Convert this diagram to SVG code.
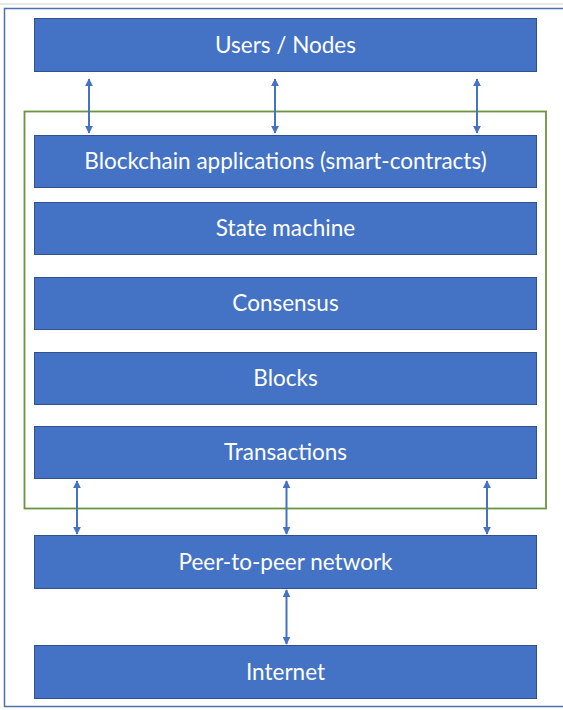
<svg xmlns="http://www.w3.org/2000/svg" width="563" height="710" viewBox="0 0 563 710">
  <defs>
    <marker id="head" viewBox="0 0 10 10" refX="9" refY="5" markerWidth="8" markerHeight="8" orient="auto-start-reverse" markerUnits="userSpaceOnUse">
      <path d="M0,0 L10,5 L0,10 z" fill="#4472C4"/>
    </marker>
    <style>
      .layer { fill: #4472C4; stroke: #2F528F; stroke-width: 1; }
      .label { fill: #ffffff; font-family: Lato, "Open Sans", sans-serif; font-size: 22.5px; text-anchor: middle; dominant-baseline: central; }
      .link { stroke: #4472C4; stroke-width: 2; fill: none; marker-start: url(#head); marker-end: url(#head); }
    </style>
  </defs>
  <rect width="563" height="710" fill="#ffffff"/>
  <!-- page frame -->
  <line x1="0" y1="4" x2="563" y2="4" stroke="#d0d0d0" stroke-width="1"/>
  <rect x="4.5" y="8.5" width="570" height="698" fill="none" stroke="#4F6FB0" stroke-width="1.5"/>
  <!-- blockchain stack boundary -->
  <rect id="stack" x="24.5" y="111.5" width="521.5" height="397" fill="none" stroke="#6A9440" stroke-width="1.8"/>

  <g id="users">
    <rect class="layer" x="34.5" y="18.5" width="502" height="53"/>
    <text class="label" x="285.5" y="44">Users / Nodes</text>
  </g>
  <g id="apps">
    <rect class="layer" x="34.5" y="135.5" width="502" height="52"/>
    <text class="label" x="285.5" y="160">Blockchain applications (smart-contracts)</text>
  </g>
  <g id="state-machine">
    <rect class="layer" x="34.5" y="202.5" width="502" height="52"/>
    <text class="label" x="285.5" y="227">State machine</text>
  </g>
  <g id="consensus">
    <rect class="layer" x="34.5" y="277.5" width="502" height="52"/>
    <text class="label" x="285.5" y="302">Consensus</text>
  </g>
  <g id="blocks">
    <rect class="layer" x="34.5" y="352.5" width="502" height="52"/>
    <text class="label" x="285.5" y="377">Blocks</text>
  </g>
  <g id="transactions">
    <rect class="layer" x="34.5" y="426.5" width="502" height="52"/>
    <text class="label" x="285.5" y="451">Transactions</text>
  </g>
  <g id="p2p">
    <rect class="layer" x="34.5" y="535.5" width="502" height="53"/>
    <text class="label" x="285.5" y="561">Peer-to-peer network</text>
  </g>
  <g id="internet">
    <rect class="layer" x="34.5" y="645.5" width="502" height="53"/>
    <text class="label" x="285.5" y="671">Internet</text>
  </g>

  <g id="connectors">
    <line class="link" x1="89" y1="79" x2="89" y2="133"/>
    <line class="link" x1="275" y1="79" x2="275" y2="133"/>
    <line class="link" x1="477" y1="79" x2="477" y2="133"/>
    <line class="link" x1="77" y1="481" x2="77" y2="534"/>
    <line class="link" x1="286.5" y1="481" x2="286.5" y2="534"/>
    <line class="link" x1="487" y1="481" x2="487" y2="534"/>
    <line class="link" x1="286.5" y1="590" x2="286.5" y2="644"/>
  </g>
</svg>
